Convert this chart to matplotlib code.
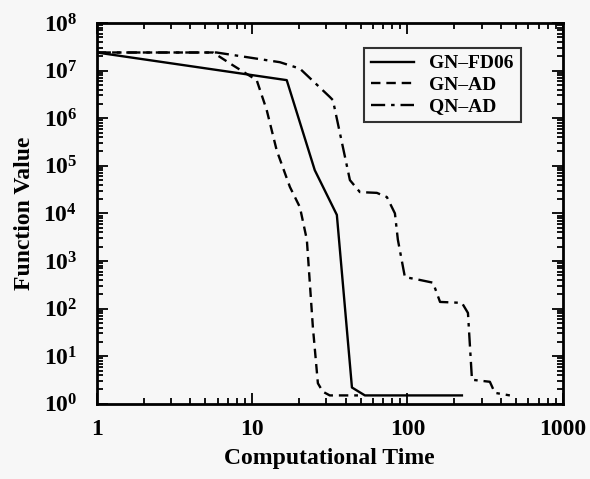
import numpy as np
import matplotlib.pyplot as plt
from matplotlib.ticker import LogLocator, NullFormatter

plt.rcParams['font.family'] = ['Liberation Serif', 'DejaVu Serif']
plt.rcParams['font.weight'] = 'bold'
plt.rcParams['mathtext.fontset'] = 'custom'
plt.rcParams['mathtext.rm'] = 'Liberation Serif:bold'
plt.rcParams['mathtext.it'] = 'Liberation Serif:bold'
plt.rcParams['mathtext.bf'] = 'Liberation Serif:bold'

# GN-FD06
fd_time = [1, 16.7, 25.3, 35.1, 43.9, 53.2, 224]
fd_value = [2.4e7, 6.3e6, 8.1e4, 9.3e3, 2.2, 1.5, 1.5]

# GN-AD
gn_time = [1, 5.6, 7.5, 10.7, 12.4, 14.4, 17.5, 20.3, 22.5, 24.6, 26.5, 28.5, 31.6, 48]
gn_value = [2.4e7, 2.4e7, 1.3e7, 6.3e6, 1.5e6, 2.1e5, 3.6e4, 1.35e4, 2.8e3, 41, 2.7, 1.8, 1.5, 1.5]

# QN-AD
qn_time = [1, 5.9, 15.1, 20.3, 31.6, 33.1, 42.6, 49.4, 63.5, 73.7, 83, 86.7, 96.2,
           120, 146, 162, 224, 245, 260, 339, 365, 456]
qn_value = [2.4e7, 2.4e7, 1.5e7, 1.1e7, 2.8e6, 2.4e6, 5e4, 2.8e4, 2.7e4, 2.2e4, 1e4, 2.8e3, 460,
            400, 350, 138, 132, 81, 3.2, 2.9, 1.7, 1.5]

fig = plt.figure(figsize=(5.9, 4.79), dpi=100)
fig.patch.set_facecolor('#f7f7f7')
ax = fig.add_axes([0.164, 0.157, 0.79, 0.795])
ax.set_facecolor('#f7f7f7')

ax.plot(fd_time, fd_value, color='black', lw=1.7, ls='-', label='GN\u2013FD06')
ax.plot(gn_time, gn_value, color='black', lw=1.7, ls=(0, (4, 2.5)), label='GN\u2013AD')
ax.plot(qn_time, qn_value, color='black', lw=1.7, ls=(0, (6, 2.5, 1.5, 2.5)), label='QN\u2013AD')

ax.set_xscale('log')
ax.set_yscale('log')
ax.set_xlim(1, 1000)
ax.set_ylim(1, 1e8)

ax.set_xticks([1, 10, 100, 1000])
ax.set_xticklabels(['1', '10', '100', '1000'])
ax.set_yticks([10.0**k for k in range(9)])
ax.set_yticklabels([r'$10^{%d}$' % k for k in range(9)])
ax.xaxis.set_minor_locator(LogLocator(base=10, subs=np.arange(2, 10), numticks=20))
ax.yaxis.set_minor_locator(LogLocator(base=10, subs=np.arange(2, 10), numticks=20))
ax.xaxis.set_minor_formatter(NullFormatter())
ax.yaxis.set_minor_formatter(NullFormatter())

ax.tick_params(which='both', direction='in', top=True, right=True, width=1.3)
ax.tick_params(which='major', length=8, labelsize=17)
ax.tick_params(axis='x', which='major', pad=11)
ax.tick_params(axis='y', which='major', pad=14)
ax.tick_params(which='minor', length=4)
for s in ax.spines.values():
    s.set_linewidth(2)

ax.set_xlabel('Computational Time', fontsize=17, fontweight='bold', labelpad=6)
ax.set_ylabel('Function Value', fontsize=17, fontweight='bold', labelpad=6)

leg = ax.legend(loc='upper right', bbox_to_anchor=(0.93, 0.96), fontsize=14, frameon=True,
                fancybox=False, edgecolor='black', handlelength=2.2, borderpad=0.35,
                labelspacing=0.2)
leg.get_frame().set_linewidth(1.5)
leg.get_frame().set_facecolor('#f7f7f7')

plt.savefig('out.png', dpi=100, facecolor=fig.get_facecolor())
